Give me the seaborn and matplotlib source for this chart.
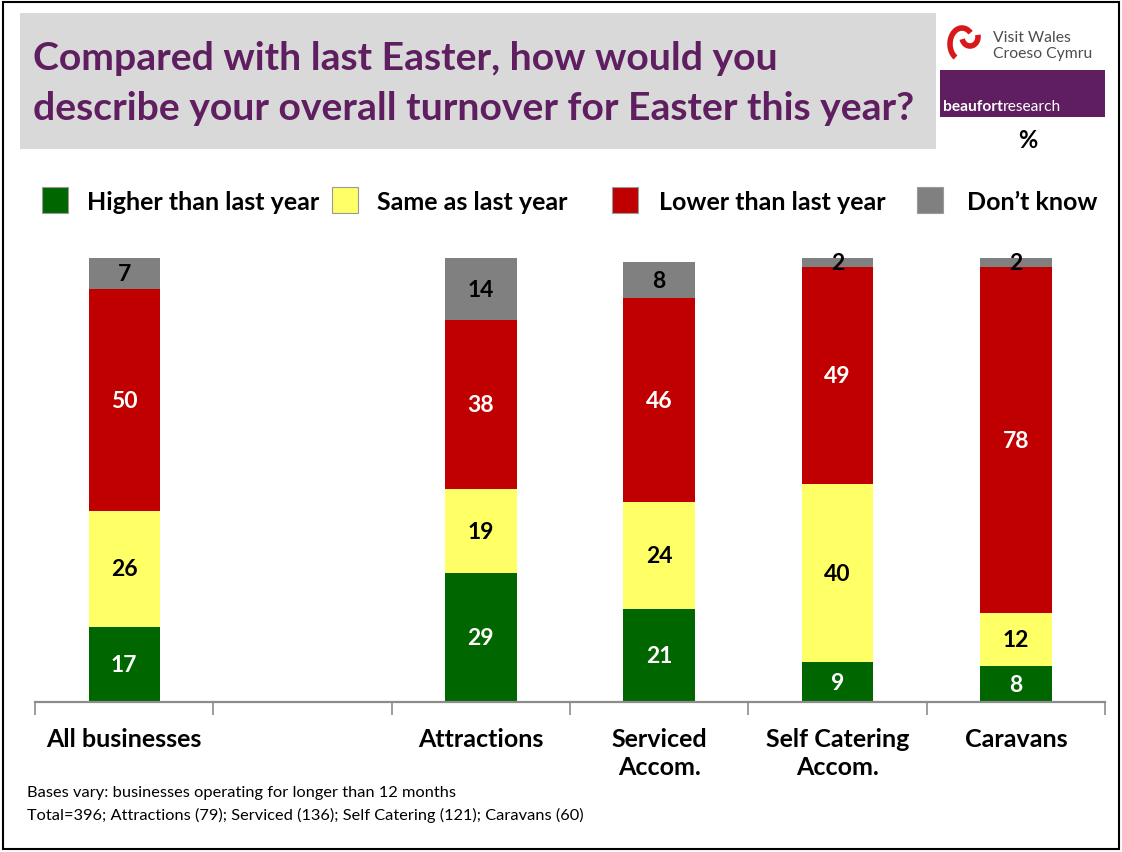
import numpy as np
import pandas as pd
import matplotlib
matplotlib.use("Agg")
import matplotlib.pyplot as plt
from matplotlib.patches import Rectangle, Arc
import seaborn as sns

# Survey results (%), one value per business type
categories = ["All businesses", "Attractions", "Serviced\nAccom.",
              "Self Catering\nAccom.", "Caravans"]
higher = [17, 29, 21, 9, 8]
same = [26, 19, 24, 40, 12]
lower = [50, 38, 46, 49, 78]
dont_know = [7, 14, 8, 2, 2]

series_names = ["Higher than last year", "Same as last year",
                "Lower than last year", "Don\u2019t know"]
series_values = [higher, same, lower, dont_know]
series_colors = ["#006600", "#FFFF66", "#C00000", "#808080"]
label_colors = ["white", "black", "white", "black"]

title_lines = ["Compared with last Easter, how would you",
               "describe your overall turnover for Easter this year?"]
footnotes = ["Bases vary: businesses operating for longer than 12 months",
             "Total=396; Attractions (79); Serviced (136); Self Catering (121); Caravans (60)"]

# category slots on the axis, with an empty gap after "All businesses"
order = [categories[0], " "] + categories[1:]

sns.set_theme(style="white")
plt.rcParams["font.family"] = ["Lato", "DejaVu Sans"]

W, H = 1122, 853
fig = plt.figure(figsize=(W / 100, H / 100), dpi=100)
fig.patch.set_facecolor("white")


def fx(x):
    return x / W


def fy(y):
    return 1 - y / H


# long table with the running totals of each stacked segment
rows = []
for i, cat in enumerate(categories):
    running = 0
    for name, vals in zip(series_names, series_values):
        running += vals[i]
        rows.append({"category": cat, "series": name,
                     "value": vals[i], "top": running})
df = pd.DataFrame(rows)

ax = fig.add_axes([fx(35), fy(703), fx(1105) - fx(35), fy(259) - fy(703)])

# draw tallest cumulative layer first so lower layers cover it
for name, color in reversed(list(zip(series_names, series_colors))):
    sub = df[df["series"] == name]
    sns.barplot(data=sub, x="category", y="top", order=order, color=color,
                saturation=1, width=0.4, linewidth=0, ax=ax, errorbar=None)

# value labels centred in each segment
for name, tcolor in zip(series_names, label_colors):
    sub = df[df["series"] == name]
    for _, r in sub.iterrows():
        xpos = order.index(r["category"])
        ax.text(xpos, r["top"] - r["value"] / 2, f"{r['value']:g}",
                ha="center", va="center", fontsize=16.5, fontweight="bold",
                color=tcolor)

ax.set_xlim(-0.5, len(order) - 0.5)
ax.set_ylim(0, 100)
ax.set_xlabel("")
ax.set_ylabel("")
ax.set_yticks([])
for side in ["left", "right", "top"]:
    ax.spines[side].set_visible(False)
ax.spines["bottom"].set_color("#8C8C8C")
ax.spines["bottom"].set_linewidth(1.6)
ax.set_facecolor("none")

# boundary ticks between slots, category names centred under the bars
ax.set_xticks(np.arange(-0.5, len(order), 1.0))
ax.set_xticklabels([])
ax.tick_params(axis="x", which="major", direction="out", length=9,
               width=1.2, color="#8C8C8C", bottom=True)
ax.set_xticks(range(len(order)), minor=True)
ax.set_xticklabels(order, minor=True, fontsize=18, fontweight="bold",
                   color="black", linespacing=1.25)
ax.tick_params(axis="x", which="minor", length=0, pad=18)

# header panel and title
fig.patches.append(Rectangle((fx(20), fy(150)), fx(936) - fx(20),
                             fy(14) - fy(150), transform=fig.transFigure,
                             facecolor="#D9D9D9", edgecolor="none", zorder=0))
for k, line in enumerate(title_lines):
    fig.text(fx(33), fy(59 + 50 * k), line, ha="left", va="center",
             fontsize=28.2, fontweight="bold", color="#5F1E5F")

# outer frame
fig.patches.append(Rectangle((fx(3), fy(850)), fx(1119) - fx(3),
                             fy(3) - fy(850), transform=fig.transFigure,
                             facecolor="none", edgecolor="black",
                             linewidth=1.5, zorder=5))

# logos
for (cx, cy, w, h, t1, t2) in [(962, 45, 24, 32, 60, 250),
                               (970, 38, 16, 18, 200, 20)]:
    fig.patches.append(Arc((fx(cx), fy(cy)), fx(w), h / H,
                           theta1=t1, theta2=t2, transform=fig.transFigure,
                           color="#D7191C", linewidth=4))
fig.text(fx(993), fy(38), "Visit Wales", fontsize=11.3, color="#4D4D4D",
         ha="left", va="center")
fig.text(fx(993), fy(54), "Croeso Cymru", fontsize=11.3, color="#4D4D4D",
         ha="left", va="center")
fig.patches.append(Rectangle((fx(940), fy(118)), fx(1105) - fx(940),
                             fy(71) - fy(118), transform=fig.transFigure,
                             facecolor="#5F1E5F", edgecolor="none"))
t = fig.text(fx(943), fy(107), "beaufort", fontsize=11.2, fontweight="bold",
             color="white", ha="left", va="center")
fig.canvas.draw()
bb = t.get_window_extent()
fig.text(bb.x1 / W, fy(107), "research", fontsize=11.2, color="white",
         ha="left", va="center")
fig.text(fx(1028), fy(140), "%", fontsize=17, fontweight="bold",
         color="black", ha="center", va="center")

# legend row
legend_x = [(42, 87), (332, 377), (612, 659), (917, 967)]
for (bx, tx), name, color in zip(legend_x, series_names, series_colors):
    fig.patches.append(Rectangle((fx(bx), fy(214)), fx(26), 26 / H,
                                 transform=fig.transFigure, facecolor=color,
                                 edgecolor="#9A9A9A", linewidth=0.8))
    fig.text(fx(tx), fy(203), name, fontsize=18, fontweight="bold",
             color="black", ha="left", va="center")

# footnote
for k, line in enumerate(footnotes):
    fig.text(fx(27), fy(793 + 22 * k), line, fontsize=11.8, color="black",
             ha="left", va="center")

fig.savefig("out.png", dpi=100)
